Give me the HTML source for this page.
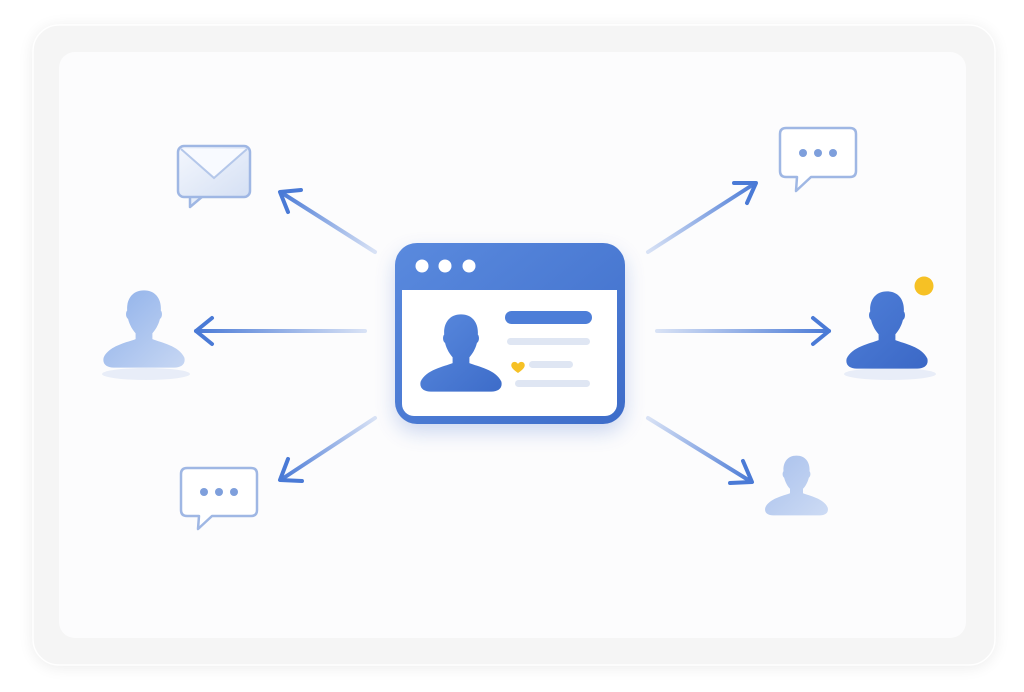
<!DOCTYPE html>
<html><head><style>html,body{margin:0;padding:0;background:#fff;width:1024px;height:692px;overflow:hidden}</style></head>
<body>
<svg width="1024" height="692" viewBox="0 0 1024 692" xmlns="http://www.w3.org/2000/svg">
<defs>
<filter id="sh" x="-10%" y="-10%" width="120%" height="120%"><feGaussianBlur stdDeviation="8"/></filter>
<filter id="sh2" x="-20%" y="-20%" width="140%" height="140%"><feGaussianBlur stdDeviation="10"/></filter>
<linearGradient id="blue" x1="0" y1="0" x2="1" y2="1"><stop offset="0" stop-color="#5a8ade"/><stop offset="1" stop-color="#3d6cc9"/></linearGradient>
<linearGradient id="pl" x1="0" y1="0" x2="1" y2="1"><stop offset="0" stop-color="#8eb0ea"/><stop offset="1" stop-color="#c7d7f3"/></linearGradient>
<linearGradient id="pr" x1="0" y1="0" x2="1" y2="1"><stop offset="0" stop-color="#4f7fd8"/><stop offset="1" stop-color="#3b68c6"/></linearGradient>
<linearGradient id="ps" x1="0" y1="0" x2="1" y2="1"><stop offset="0" stop-color="#a8c0ec"/><stop offset="1" stop-color="#cddbf4"/></linearGradient>
<linearGradient id="env" x1="0" y1="0" x2="1" y2="1"><stop offset="0" stop-color="#f4f7fd"/><stop offset="1" stop-color="#d5e0f4"/></linearGradient>
<linearGradient id="a1" x1="375" y1="252" x2="280" y2="192" gradientUnits="userSpaceOnUse"><stop offset="0" stop-color="#4a7ad6" stop-opacity="0.2"/><stop offset="1" stop-color="#4a7ad6"/></linearGradient>
<linearGradient id="a2" x1="365" y1="331" x2="195" y2="331" gradientUnits="userSpaceOnUse"><stop offset="0" stop-color="#4a7ad6" stop-opacity="0.2"/><stop offset="1" stop-color="#4a7ad6"/></linearGradient>
<linearGradient id="a3" x1="375" y1="418" x2="280" y2="480" gradientUnits="userSpaceOnUse"><stop offset="0" stop-color="#4a7ad6" stop-opacity="0.2"/><stop offset="1" stop-color="#4a7ad6"/></linearGradient>
<linearGradient id="a4" x1="648" y1="252" x2="756" y2="183" gradientUnits="userSpaceOnUse"><stop offset="0" stop-color="#4a7ad6" stop-opacity="0.2"/><stop offset="1" stop-color="#4a7ad6"/></linearGradient>
<linearGradient id="a5" x1="657" y1="331" x2="830" y2="331" gradientUnits="userSpaceOnUse"><stop offset="0" stop-color="#4a7ad6" stop-opacity="0.2"/><stop offset="1" stop-color="#4a7ad6"/></linearGradient>
<linearGradient id="a6" x1="648" y1="418" x2="752" y2="482" gradientUnits="userSpaceOnUse"><stop offset="0" stop-color="#4a7ad6" stop-opacity="0.2"/><stop offset="1" stop-color="#4a7ad6"/></linearGradient>
<symbol id="person" viewBox="0 0 100 100">
<path d="M50 4 C35 4 29 16 30 28 C28 30 28 36 31 38 C33 46 37 52 40 55 L40 62 C30 66 8 70 2 84 C0 92 6 96 14 96 L86 96 C94 96 100 92 98 84 C92 70 70 66 60 62 L60 55 C63 52 67 46 69 38 C72 36 72 30 70 28 C71 16 65 4 50 4 Z"/>
</symbol>
</defs>
<rect x="33" y="27" width="962" height="640" rx="26" fill="#000" opacity="0.08" filter="url(#sh)"/>
<rect x="33" y="25" width="962" height="640" rx="26" fill="#f5f5f5" stroke="#fff" stroke-width="1.5"/>
<rect x="59" y="52" width="907" height="586" rx="16" fill="#fcfcfd"/>

<!-- arrows -->
<g stroke-width="4" fill="none" stroke-linecap="round" stroke-linejoin="round">
<line x1="375" y1="252" x2="282" y2="193" stroke="url(#a1)"/>
<polyline points="288,212 280,192 301,190" stroke="#4a7ad6"/>
<line x1="365" y1="331" x2="196" y2="331" stroke="url(#a2)"/>
<polyline points="212,318 196,331 212,344" stroke="#4a7ad6"/>
<line x1="375" y1="418" x2="282" y2="479" stroke="url(#a3)"/>
<polyline points="288,459 280,480 302,481" stroke="#4a7ad6"/>
<line x1="648" y1="252" x2="754" y2="184" stroke="url(#a4)"/>
<polyline points="734,183 756,183 747,203" stroke="#4a7ad6"/>
<line x1="657" y1="331" x2="829" y2="331" stroke="url(#a5)"/>
<polyline points="813,318 829,331 813,344" stroke="#4a7ad6"/>
<line x1="648" y1="418" x2="750" y2="481" stroke="url(#a6)"/>
<polyline points="743,461 752,482 730,483" stroke="#4a7ad6"/>
</g>

<!-- envelope -->
<path d="M190 196 L190 207 L203 196 Z" fill="#e6edf9" stroke="#9fb7e4" stroke-width="2.5" stroke-linejoin="round"/>
<rect x="178" y="146" width="72" height="51" rx="6" fill="url(#env)" stroke="#9fb7e4" stroke-width="2.5"/>
<path d="M181 149 L214 178 L247 149" fill="#f8faff" stroke="#b4c7ea" stroke-width="2"/>

<!-- chat bottom left -->
<path d="M187 468 H251 Q257 468 257 474 V510 Q257 516 251 516 H212 L198 529 L199 516 H187 Q181 516 181 510 V474 Q181 468 187 468 Z" fill="#fff" stroke="#9fb7e4" stroke-width="2.5" stroke-linejoin="round"/>
<circle cx="204" cy="492" r="4" fill="#7e9fdc"/><circle cx="219" cy="492" r="4" fill="#7e9fdc"/><circle cx="234" cy="492" r="4" fill="#7e9fdc"/>

<!-- chat top right -->
<path d="M786 128 H850 Q856 128 856 134 V171 Q856 177 850 177 H811 L796 191 L797 177 H786 Q780 177 780 171 V134 Q780 128 786 128 Z" fill="#fff" stroke="#9fb7e4" stroke-width="2.5" stroke-linejoin="round"/>
<circle cx="803" cy="153" r="4" fill="#7e9fdc"/><circle cx="818" cy="153" r="4" fill="#7e9fdc"/><circle cx="833" cy="153" r="4" fill="#7e9fdc"/>

<!-- persons -->
<ellipse cx="146" cy="374" rx="44" ry="6" fill="#dfe7f5" opacity="0.7"/>
<use href="#person" x="102" y="285" width="84" height="88" fill="url(#pl)"/>
<ellipse cx="890" cy="374" rx="46" ry="6" fill="#dfe7f5" opacity="0.7"/>
<use href="#person" x="845" y="286" width="84" height="88" fill="url(#pr)"/>
<circle cx="924" cy="286" r="9.5" fill="#f6c125"/>
<use href="#person" x="764" y="452" width="65" height="67" fill="url(#ps)"/>

<!-- central window -->
<rect x="395" y="252" width="230" height="180" rx="22" fill="#3b66c8" opacity="0.25" filter="url(#sh2)"/>
<rect x="395" y="243" width="230" height="181" rx="22" fill="url(#blue)"/>
<rect x="402" y="290" width="215" height="126" rx="12" fill="#fff"/>
<rect x="402" y="290" width="215" height="12" fill="#fff"/>
<circle cx="422" cy="266" r="6.5" fill="#fff"/><circle cx="445" cy="266" r="6.5" fill="#fff"/><circle cx="469" cy="266" r="6.5" fill="#fff"/>
<use href="#person" x="419" y="309" width="84" height="88" fill="url(#blue)"/>
<rect x="505" y="311" width="87" height="13" rx="6.5" fill="#4d7ed8"/>
<rect x="507" y="338" width="83" height="7" rx="3.5" fill="#dfe6f3"/>
<rect x="529" y="361" width="44" height="7" rx="3.5" fill="#dfe6f3"/>
<rect x="515" y="380" width="75" height="7" rx="3.5" fill="#dfe6f3"/>
<path d="M518 373 C512 369 510 366 512 363 C514 361 517 362 518 364 C519 362 522 361 524 363 C526 366 524 369 518 373 Z" fill="#f6c125"/>
</svg>
</body></html>
